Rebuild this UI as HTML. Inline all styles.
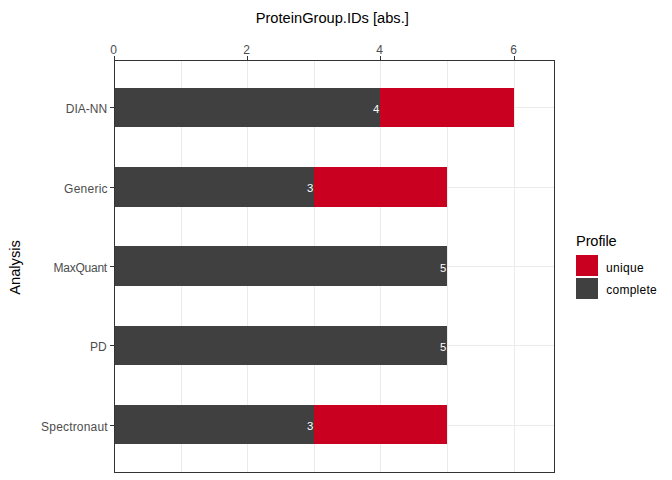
<!DOCTYPE html>
<html>
<head>
<meta charset="utf-8">
<style>
html,body{margin:0;padding:0;background:#fff;width:672px;height:480px;overflow:hidden}
svg{display:block}
text{font-family:"Liberation Sans",Arial,sans-serif}
.ax{font-size:12px;fill:#4D4D4D}
.ttl{font-size:14.67px;fill:#000}
.lg{font-size:12px;fill:#000}
.bl{font-size:11.3px;fill:#fff}
</style>
</head>
<body>
<svg width="672" height="480" viewBox="0 0 672 480" shape-rendering="crispEdges">
<rect x="0" y="0" width="672" height="480" fill="#fff"/>
<!-- grid vertical -->
<g stroke="#EBEBEB" stroke-width="1">
<line x1="181.5" y1="61" x2="181.5" y2="472"/>
<line x1="247.5" y1="61" x2="247.5" y2="472"/>
<line x1="314.5" y1="61" x2="314.5" y2="472"/>
<line x1="380.5" y1="61" x2="380.5" y2="472"/>
<line x1="447.5" y1="61" x2="447.5" y2="472"/>
<line x1="514.5" y1="61" x2="514.5" y2="472"/>
<line x1="115" y1="107.5" x2="554" y2="107.5"/>
<line x1="115" y1="187.5" x2="554" y2="187.5"/>
<line x1="115" y1="266.5" x2="554" y2="266.5"/>
<line x1="115" y1="345.5" x2="554" y2="345.5"/>
<line x1="115" y1="425.5" x2="554" y2="425.5"/>
</g>
<!-- bars -->
<g>
<rect x="114" y="88" width="266" height="39" fill="#404040"/>
<rect x="380" y="88" width="134" height="39" fill="#CA0020"/>
<rect x="114" y="167" width="200" height="40" fill="#404040"/>
<rect x="314" y="167" width="133" height="40" fill="#CA0020"/>
<rect x="114" y="246" width="333" height="40" fill="#404040"/>
<rect x="114" y="326" width="333" height="39" fill="#404040"/>
<rect x="114" y="405" width="200" height="39" fill="#404040"/>
<rect x="314" y="405" width="133" height="39" fill="#CA0020"/>
</g>
<!-- bar labels -->
<g class="bl" text-anchor="end">
<text x="379.4" y="113">4</text>
<text x="313.4" y="192.2">3</text>
<text x="446.3" y="272">5</text>
<text x="446.3" y="351">5</text>
<text x="313.4" y="430.2">3</text>
</g>
<!-- panel border -->
<rect x="114.5" y="60.5" width="440" height="412" fill="none" stroke="#333333" stroke-width="1"/>
<!-- ticks -->
<g stroke="#333333" stroke-width="1">
<line x1="114.5" y1="56" x2="114.5" y2="60"/>
<line x1="247.5" y1="56" x2="247.5" y2="60"/>
<line x1="380.5" y1="56" x2="380.5" y2="60"/>
<line x1="514.5" y1="56" x2="514.5" y2="60"/>
<line x1="110" y1="107.5" x2="114" y2="107.5"/>
<line x1="110" y1="187.5" x2="114" y2="187.5"/>
<line x1="110" y1="266.5" x2="114" y2="266.5"/>
<line x1="110" y1="345.5" x2="114" y2="345.5"/>
<line x1="110" y1="425.5" x2="114" y2="425.5"/>
</g>
<!-- x axis labels -->
<g class="ax" text-anchor="middle">
<text x="113.6" y="53.8">0</text>
<text x="246.6" y="53.8">2</text>
<text x="379.6" y="53.8">4</text>
<text x="513.6" y="53.8">6</text>
</g>
<!-- y axis labels -->
<g class="ax" text-anchor="end">
<text x="107.1" y="112.7">DIA-NN</text>
<text x="107.6" y="192.5" textLength="43.5">Generic</text>
<text x="107.2" y="271.6" textLength="53.7">MaxQuant</text>
<text x="106.7" y="350.7">PD</text>
<text x="107.6" y="430.5" textLength="66.5">Spectronaut</text>
</g>
<!-- titles -->
<text class="ttl" x="255.7" y="22.9">ProteinGroup.IDs [abs.]</text>
<text class="ttl" transform="translate(20.3,267.5) rotate(-90)" text-anchor="middle">Analysis</text>
<!-- legend -->
<text class="ttl" x="576" y="245.5" textLength="40.7">Profile</text>
<rect x="576" y="255" width="22" height="21" fill="#CA0020"/>
<rect x="576" y="278" width="22" height="21" fill="#404040"/>
<text class="lg" x="606" y="271.9" textLength="37.6">unique</text>
<text class="lg" x="606.2" y="294.4" textLength="50.6">complete</text>
</svg>
</body>
</html>
